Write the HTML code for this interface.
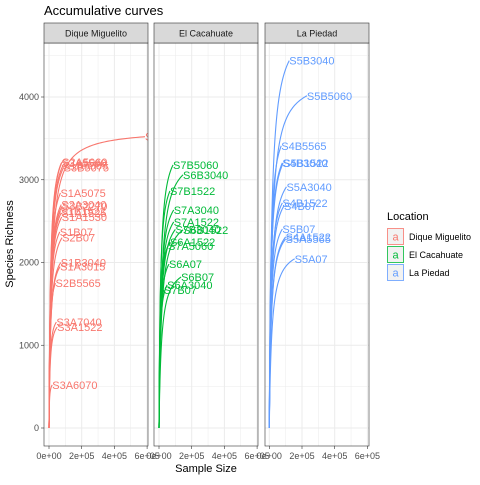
<!DOCTYPE html>
<html><head><meta charset="utf-8"><style>
body{margin:0;background:#fff}
svg{font-family:"Liberation Sans",sans-serif}
</style></head><body>
<svg id="chart" width="480" height="480" viewBox="0 0 480 480">
<text x="44" y="15" font-size="13" fill="#000">Accumulative curves</text>
<g id="panels"></g>
<text x="206" y="472" font-size="11" text-anchor="middle">Sample Size</text>
<text transform="translate(13,244) rotate(-90)" font-size="11" text-anchor="middle">Species Richness</text>
<g>
<text x="387" y="220" font-size="11">Location</text>
<g id="legend"></g>
</g>
</svg>
<script>
const locations=["Dique Miguelito","El Cacahuate","La Piedad"];
const colors=["#F8766D","#00BA38","#619CFF"];
const names0=["S2A6070","S2A5060","S3A5560","S1B5565","S3B5075","S1A5075","S2A3040","S3B2270","S1B1522","S1A1525","S1A1530","S1B07","S2B07","S1B3040","S1A3015","S2B5565","S3A7040","S3A1522","S3A6070"];
const sizes0=[587000,80000,75000,85000,90000,70000,75000,80000,70000,75000,78000,66000,80000,72000,68000,40000,45000,50000,20000];
const rich0=[3520,3215,3200,3170,3150,2840,2700,2680,2620,2600,2550,2370,2300,2000,1950,1750,1280,1220,520];
const names1=["S7B5060","S6B3040","S7B1522","S7A3040","S7A1522","S7B3040","S6B1522","S6A1522","S7A5060","S6A07","S6B07","S6A3040","S7B07"];
const sizes1=[86000,147000,67000,90000,90000,100000,147000,67000,55000,61000,135000,50000,30000];
const rich1=[3180,3060,2865,2635,2490,2400,2395,2250,2200,1980,1825,1730,1670];
const names2=["S5B3040","S5B5060","S4B5565","S4B3040","S5B1522","S5A3040","S4B1522","S4B07","S5B07","S4A1522","S5A5565","S5A07"];
const sizes2=[122000,230000,73000,80000,85000,105000,80000,90000,80000,100000,100000,155000];
const rich2=[4440,4015,3410,3205,3200,2915,2720,2685,2405,2310,2285,2045];
const yTicks=[0,1000,2000,3000,4000];
const xTicks=[0,200000,400000,600000];
const xTickLabels=["0e+00","2e+05","4e+05","6e+05"];
const data=[[names0,sizes0,rich0],[names1,sizes1,rich1],[names2,sizes2,rich2]];
const NS="http://www.w3.org/2000/svg";
const panelX=[44,154,265], panelW=104, pTop=43, pBot=446, stripTop=23;
const xZero=[49,159,269.3], pxPer=32.7/200000;
function yS(v){return 428-v*0.08275;}
function mk(tag,attrs,parent){const e=document.createElementNS(NS,tag);for(const k in attrs)e.setAttribute(k,attrs[k]);parent.appendChild(e);return e;}
const g=document.getElementById('panels');
const defs=mk('defs',{},g);
data.forEach((d,p)=>{
  const x0=panelX[p], xS=v=>xZero[p]+v*pxPer;
  const cp=mk('clipPath',{id:'cp'+p},defs);
  mk('rect',{x:x0,y:pTop,width:panelW,height:pBot-pTop},cp);
  const pg=mk('g',{},g);
  
  
  mk('rect',{x:x0,y:pTop,width:panelW,height:pBot-pTop,fill:'#fff'},pg);
  for(let v=-500;v<=4500;v+=500){const y=yS(v);if(y<pTop||y>pBot)continue;
    mk('line',{x1:x0,x2:x0+panelW,y1:y,y2:y,stroke:'#EBEBEB','stroke-width':v%1000?0.5:1},pg);}
  for(let v=-100000;v<=700000;v+=100000){const x=xS(v);if(x<x0||x>x0+panelW)continue;
    mk('line',{x1:x,x2:x,y1:pTop,y2:pBot,stroke:'#EBEBEB','stroke-width':v%200000?0.5:1},pg);}
  const cg=mk('g',{'clip-path':'url(#cp'+p+')'},pg);
  const [nm,sz,rc]=d;
  nm.forEach((n,i)=>{
    const N=sz[i],R=rc[i],k=Math.min(N*0.12,15000);
    let s='';
    for(let j=0;j<=80;j++){const t=N*Math.pow(j/80,2);const S=R*t*(N+k)/(N*(t+k));
      s+=(j?'L':'M')+xS(t).toFixed(2)+','+yS(S).toFixed(2);}
    const path=mk('path',{d:s,fill:'none',stroke:colors[p],'stroke-width':1.1},cg);
    
    
    const t=mk('text',{x:xS(N),y:yS(R)+4,'font-size':11,fill:colors[p]},cg);
    t.textContent=n;
    
    
  });
  mk('rect',{x:x0,y:pTop,width:panelW,height:pBot-pTop,fill:'none',stroke:'#333','stroke-width':0.6},pg);
  const st=mk('rect',{x:x0,y:stripTop,width:panelW,height:pTop-stripTop,fill:'#D9D9D9',stroke:'#333','stroke-width':0.6},pg);
  
  
  const stt=mk('text',{x:x0+panelW/2,y:36.5,'font-size':9,'text-anchor':'middle',fill:'#1A1A1A'},pg);
  stt.textContent=locations[p];
  
  
  xTicks.forEach((v,i)=>{const x=xS(v);
    mk('line',{x1:x,x2:x,y1:pBot,y2:pBot+3,stroke:'#333','stroke-width':0.6},pg);
    const tl=mk('text',{x:x,y:pBot+13,'font-size':9,'text-anchor':'middle',fill:'#4D4D4D'},pg);
    tl.textContent=xTickLabels[i];
    
    });
});
yTicks.forEach(v=>{const y=yS(v);
  mk('line',{x1:41,x2:44,y1:y,y2:y,stroke:'#333','stroke-width':0.6},g);
  const tl=mk('text',{x:39,y:y+3,'font-size':9,'text-anchor':'end',fill:'#4D4D4D'},g);
  tl.textContent=v;
  
  });
const lg=document.getElementById('legend');
locations.forEach((l,i)=>{const y=228+i*18;
  const kg=mk('g',{},lg);
  
  
  mk('rect',{x:387,y:y,width:17,height:17,fill:'#F2F2F2',stroke:'#fff'},kg);
  const a=mk('text',{x:395.5,y:y+12.5,'font-size':11,'text-anchor':'middle',fill:colors[i]},kg);a.textContent='a';
  mk('rect',{x:387.5,y:y+0.5,width:16,height:16,fill:'none',stroke:colors[i],'stroke-width':0.8},kg);
  const t=mk('text',{x:409,y:y+12,'font-size':9,fill:'#000'},kg);t.textContent=l;});
</script>
</body></html>
